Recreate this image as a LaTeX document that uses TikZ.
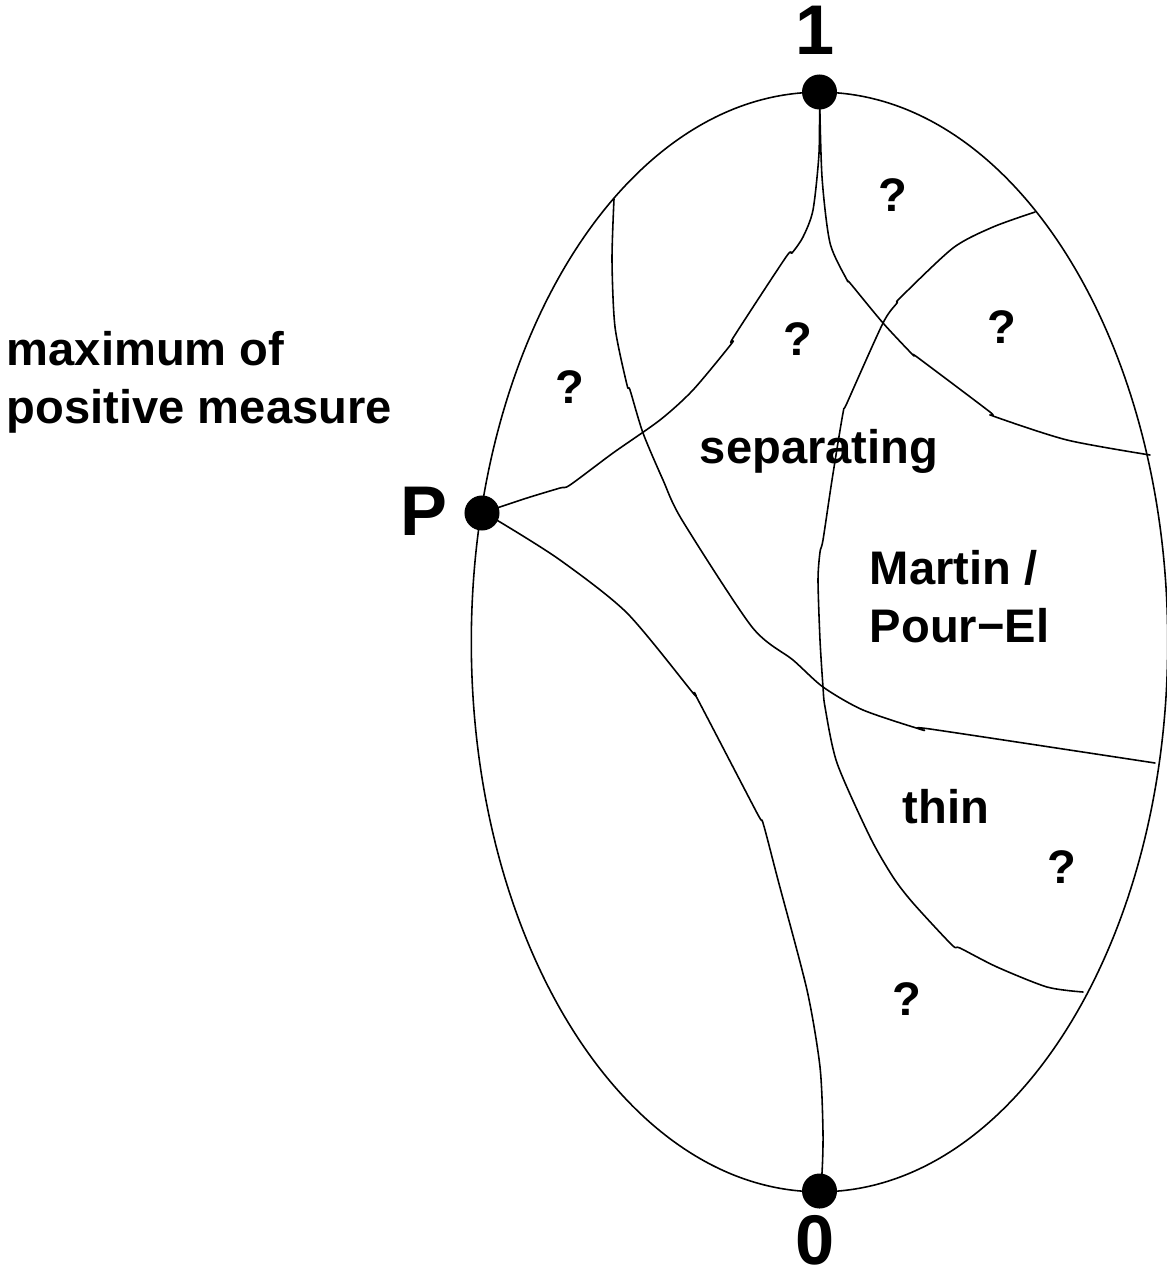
\documentclass[tikz,border=0pt]{standalone}
\usepackage{fontspec}
\setmainfont{Liberation Sans}
\begin{document}
\begin{tikzpicture}[x=0.01cm,y=-0.01cm,line cap=round,line join=round,line width=0.45pt,
   dot/.style={circle,fill,inner sep=0pt,minimum size=0.35cm},
   lbl/.style={font=\fontsize{13.4}{16.3}\selectfont\bfseries,anchor=base,inner sep=0pt,align=left},
   big/.style={font=\fontsize{20}{24}\selectfont\bfseries,anchor=base,inner sep=0pt}]
\useasboundingbox (0,0) rectangle (1167,1273);
% the three marked points
\coordinate (one)  at (819.5,92);
\coordinate (p)    at (482,513);
\coordinate (zero) at (819.5,1191);
% outer curve
\draw (819.5,642) ellipse [x radius=3.48cm, y radius=5.495cm];
% ends of the dividing curves on the outer curve
\coordinate (bstart) at (614,199);
\coordinate (bend)   at (1155,763);
\coordinate (cend)   at (1150,455);
\coordinate (dstart) at (1035,212);
\coordinate (dend)   at (1083,992);
% from 1 to P
\draw plot[smooth,tension=0.45] coordinates {(one) (819,153) (813,210) (803,237) (792,253)
   (786,257) (733,338) (732,343) (693,390) (660,420) (613,453) (570,485) (560,488) (527,498) (p)};
% from P to 0
\draw plot[smooth,tension=0.45] coordinates {(p) (500,522) (560,560) (627,613) (693,693)
   (697,698) (757,813) (763,823) (778,880) (807,990) (820,1067) (823,1133) (822,1173) (zero)};
% from 1 to the right side
\draw plot[smooth,tension=0.45] coordinates {(one) (822,177) (830,243) (847,280) (850,283)
   (883,323) (913,355) (917,357) (990,412) (993,416) (1067,440) (cend)};
% long curve on the left
\draw plot[smooth,tension=0.45] coordinates {(bstart) (612,260) (615,327) (627,385) (630,390)
   (643,433) (663,480) (682,520) (752,627) (793,660) (823,687) (863,710) (923,730) (930,729) (bend)};
% long curve on the right
\draw plot[smooth,tension=0.45] coordinates {(dstart) (993,227) (953,248) (900,298) (897,303)
   (883,323) (847,403) (843,413) (832,480) (823,540) (820,552) (818,580) (820,640) (823,687)
   (825,707) (837,763) (870,837) (893,877) (913,903) (952,945) (960,948) (997,967) (1047,987) (dend)};
% dots
\node[dot] (onedot)  at (one)  {};
\node[dot] (pdot)    at (p)    {};
\node[dot] (zerodot) at (zero) {};
% labels
\node[big] (onelbl)  at (815,55)   {1};
\node[big] (zerolbl) at (815,1264) {0};
\node[big] (plbl)    at (424,535)  {P};
\node[lbl,anchor=base west] (maxlbl) at (6,423) {maximum of\\positive measure};
\node[lbl] (seplbl)  at (819,463)  {separating};
\node[lbl,anchor=base west] (mplbl) at (869,642) {Martin /\\Pour\textminus El};
\node[lbl] (thinlbl) at (946,823)  {thin};
\node[lbl] (qa) at (570,403)  {?};
\node[lbl] (qb) at (798,355)  {?};
\node[lbl] (qc) at (893,212)  {?};
\node[lbl] (qd) at (1002,343) {?};
\node[lbl] (qe) at (1062,883) {?};
\node[lbl] (qf) at (907,1015) {?};
\end{tikzpicture}
\end{document}
